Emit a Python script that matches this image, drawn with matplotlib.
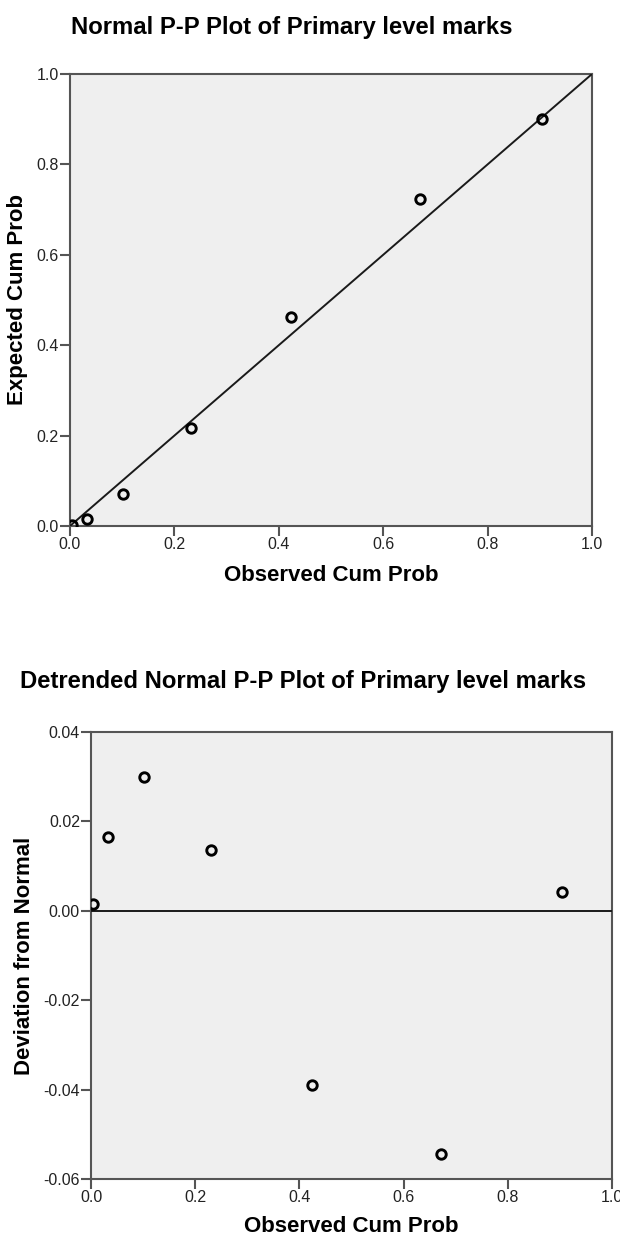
import numpy as np
import matplotlib
matplotlib.use('Agg')
import matplotlib.pyplot as plt

plt.rcParams['font.family'] = ['Liberation Sans', 'DejaVu Sans']

# Cumulative probabilities for the primary level marks
observed = [0.004, 0.033, 0.101, 0.231, 0.424, 0.671, 0.904]
expected = [0.0025, 0.016, 0.070, 0.217, 0.462, 0.724, 0.900]
deviation = [0.0015, 0.0165, 0.0300, 0.0135, -0.0390, -0.0545, 0.0043]

pp_ticks = [0.0, 0.2, 0.4, 0.6, 0.8, 1.0]
dev_ticks = [-0.06, -0.04, -0.02, 0.00, 0.02, 0.04]

spine_col = '#555555'
face_col = '#efefef'

def style_axes(ax):
    ax.set_facecolor(face_col)
    for s in ax.spines.values():
        s.set_color(spine_col)
        s.set_linewidth(1.5)
    ax.tick_params(direction='out', length=7, width=1.5, color=spine_col,
                   labelsize=11.5, labelcolor='#222222', pad=1)

def draw_points(ax, x, y):
    ax.plot(x, y, linestyle='none', marker='o', markersize=6.8,
            markerfacecolor='none', markeredgecolor='black',
            markeredgewidth=2.1, zorder=4)

fig = plt.figure(figsize=(6.2, 12.37), dpi=100)

# Normal P-P plot
ax1 = fig.add_axes([0.1129, 0.5748, 0.842, 0.3654])
style_axes(ax1)
ax1.plot([0, 1], [0, 1], color='#1a1a1a', linewidth=1.4, zorder=3)
draw_points(ax1, observed, expected)
ax1.set_xlim(0, 1)
ax1.set_ylim(0, 1)
ax1.set_xticks(pp_ticks)
ax1.set_yticks(pp_ticks)
ax1.set_xticklabels([f'{t:.1f}' for t in pp_ticks])
ax1.set_yticklabels([f'{t:.1f}' for t in pp_ticks])
ax1.set_xlabel('Observed Cum Prob', fontsize=16, fontweight='bold', labelpad=9)
ax1.set_ylabel('Expected Cum Prob', fontsize=16, fontweight='bold', labelpad=6)
fig.text(0.47, 0.978, 'Normal P-P Plot of Primary level marks',
         ha='center', va='center', fontsize=17.2, fontweight='bold')

# Detrended normal P-P plot
ax2 = fig.add_axes([0.1468, 0.0469, 0.8403, 0.3614])
style_axes(ax2)
ax2.axhline(0, color='#1a1a1a', linewidth=1.4, zorder=3)
draw_points(ax2, observed, deviation)
ax2.set_xlim(0, 1)
ax2.set_ylim(-0.06, 0.04)
ax2.set_xticks(pp_ticks)
ax2.set_yticks(dev_ticks)
ax2.set_xticklabels([f'{t:.1f}' for t in pp_ticks])
ax2.set_yticklabels([f'{t:.2f}' for t in dev_ticks])
ax2.set_xlabel('Observed Cum Prob', fontsize=16, fontweight='bold', labelpad=8)
ax2.set_ylabel('Deviation from Normal', fontsize=16, fontweight='bold', labelpad=6)
fig.text(0.489, 0.449, 'Detrended Normal P-P Plot of Primary level marks',
         ha='center', va='center', fontsize=17.2, fontweight='bold')

fig.savefig('out.png', dpi=100)
